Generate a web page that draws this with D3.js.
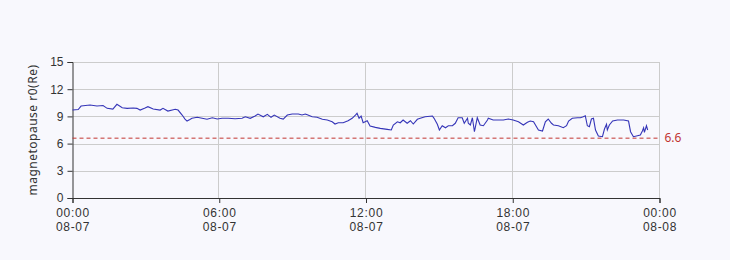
<!DOCTYPE html>
<html><head><meta charset="utf-8">
<script src="https://cdn.jsdelivr.net/npm/d3@7"></script>
<style>
html,body{margin:0;padding:0;background:#f8f8fd;}
svg{display:block;font-family:"Microsoft YaHei","Noto Sans","DejaVu Sans",sans-serif;}
</style></head>
<body>
<svg id="chart" width="730" height="260"></svg>
<script>
const times = ["00:00","00:14","00:21","00:43","01:00","01:15","01:25","01:39","01:49","02:02","02:14","02:29","02:38","02:46","02:58","03:05","03:18","03:35","03:42","03:54","04:12","04:19","04:29","04:36","04:41","04:48",
"04:53","05:06","05:18","05:30","05:43","05:55","06:07","06:22","06:39","06:56","07:04","07:16","07:28","07:35","07:48","07:58","08:07","08:15","08:29","08:37","08:47","08:59","09:14","09:23","09:31",
"09:36","09:48","10:00","10:13","10:25","10:37","10:44","10:52","11:04","11:16","11:26","11:34","11:38","11:43","11:48","11:53","12:03","12:10","12:23","12:35","12:52","13:02","13:07","13:17","13:24","13:31","13:41","13:49","13:56","14:06","14:13",
"14:25","14:43","14:47","14:55","15:00","15:07","15:15","15:22","15:32","15:39","15:46","15:56","16:01","16:09","16:11","16:16","16:21","16:26","16:33","16:40","16:48","16:58","17:00","17:12","17:25","17:37","17:49","18:01","18:14","18:26","18:36","18:43",
"18:51","19:03","19:13","19:20","19:27","19:35","19:40","19:52","20:04","20:12","20:17","20:26","20:39","20:46","20:53","20:58","21:03","21:08","21:13","21:18","21:23","21:30","21:40","21:45","21:50","21:52","21:57","22:05","22:17","22:32","22:44","22:49","22:56","23:06","23:13","23:18","23:21","23:23","23:28","23:31"];
const r0 = [9.70,9.76,10.14,10.25,10.14,10.20,9.89,9.81,10.33,9.96,9.89,9.92,9.89,9.70,9.92,10.07,9.81,9.70,9.89,9.59,9.78,9.70,9.15,8.71,8.49,8.66,
8.79,8.90,8.79,8.68,8.85,8.71,8.79,8.79,8.74,8.79,8.96,8.79,9.04,9.26,8.96,9.23,8.90,9.15,8.79,8.71,9.15,9.26,9.26,9.15,9.26,
9.18,8.96,8.90,8.68,8.60,8.41,8.16,8.30,8.30,8.52,8.79,9.15,9.34,8.79,9.04,8.30,8.52,7.94,7.79,7.68,7.57,7.50,8.05,8.41,8.30,8.60,8.24,8.52,8.16,8.68,8.79,
8.96,9.04,8.79,8.13,7.50,7.97,7.75,7.97,7.97,8.24,8.85,8.85,8.24,8.79,8.24,8.05,8.85,7.31,8.85,8.05,7.97,8.60,8.79,8.60,8.60,8.60,8.71,8.60,8.41,8.05,8.35,8.49,
8.41,7.50,7.39,8.41,8.71,8.24,8.05,7.97,7.75,7.97,8.49,8.79,8.85,8.85,8.96,9.07,7.97,7.86,8.71,8.79,7.50,6.84,6.76,7.61,8.13,7.50,8.05,8.49,8.60,8.60,8.49,7.31,6.76,6.87,6.95,7.39,7.75,7.24,7.97,7.50];
const yTicks = [0,3,6,9,12,15];
const xTickDates = ["2024-08-07T00:00","2024-08-07T06:00","2024-08-07T12:00","2024-08-07T18:00","2024-08-08T00:00"];
const threshold = 6.6;
const yName = "magnetopause r0(Re)";

const parse = d3.timeParse("%Y-%m-%dT%H:%M");
const data = times.map((t,i)=>({t:parse("2024-08-07T"+t), v:r0[i]}));
const xTickVals = xTickDates.map(parse);

const svg = d3.select("#chart");
const m = {l:72.5, r:659.5, t:62, b:198};
const x = d3.scaleTime().domain([xTickVals[0], xTickVals[xTickVals.length-1]]).range([m.l, m.r]);
const y = d3.scaleLinear().domain([0,15]).range([m.b, m.t]);

const txt = "#333";
const ls = "0.7px";
// grid
svg.append("g").selectAll("line").data(yTicks.filter(d=>d>0)).join("line")
  .attr("x1",m.l).attr("x2",m.r).attr("y1",d=>Math.round(y(d))+0.5).attr("y2",d=>Math.round(y(d))+0.5)
  .attr("stroke","#ccc").attr("stroke-width",1);
svg.append("g").selectAll("line").data(xTickVals.slice(1)).join("line")
  .attr("x1",d=>Math.round(x(d))-0.5).attr("x2",d=>Math.round(x(d))-0.5).attr("y1",m.t).attr("y2",m.b)
  .attr("stroke","#ccc").attr("stroke-width",1);

// y axis
const yAxis = svg.append("g").attr("transform",`translate(${m.l},0)`)
  .call(d3.axisLeft(y).tickValues(yTicks).tickSize(5).tickPadding(4));
yAxis.select(".domain").attr("stroke","#333");
yAxis.selectAll(".tick line").attr("stroke","#333");
yAxis.selectAll("text").attr("fill",txt).style("font-size","12px");

// x axis
const fmtT = d3.timeFormat("%H:%M"), fmtD = d3.timeFormat("%m-%d");
const xAxis = svg.append("g").attr("transform",`translate(0,${m.b})`)
  .call(d3.axisBottom(x).tickValues(xTickVals).tickSize(5).tickFormat(""));
xAxis.select(".domain").attr("stroke","#333");
xAxis.selectAll(".tick line").attr("stroke","#333");
xAxis.selectAll(".tick").each(function(d){
  const t = d3.select(this).append("text").attr("fill",txt).style("font-size","12px")
    .style("letter-spacing",ls).attr("text-anchor","middle");
  t.append("tspan").attr("x",0).attr("y",19).text(fmtT(d));
  t.append("tspan").attr("x",0).attr("y",33).text(fmtD(d));
});

// threshold line
svg.append("line").attr("x1",m.l).attr("x2",m.r).attr("y1",y(threshold)).attr("y2",y(threshold))
  .attr("stroke","#c23531").attr("stroke-width",1).attr("stroke-dasharray","4,3");
svg.append("text").attr("x",m.r+5).attr("y",y(threshold)+4).attr("fill","#c23531")
  .style("font-size","12px").text(String(threshold));

// line
svg.append("path").datum(data)
  .attr("d", d3.line().x(d=>x(d.t)).y(d=>y(d.v)))
  .attr("fill","none").attr("stroke","#3535b8").attr("stroke-width",1.1);

// y name
svg.append("text").attr("transform",`translate(37,${(m.t+m.b)/2}) rotate(-90)`)
  .attr("text-anchor","middle").attr("fill",txt).style("font-size","12px")
  .style("letter-spacing","0.5px").text(yName);
</script>
</body></html>
